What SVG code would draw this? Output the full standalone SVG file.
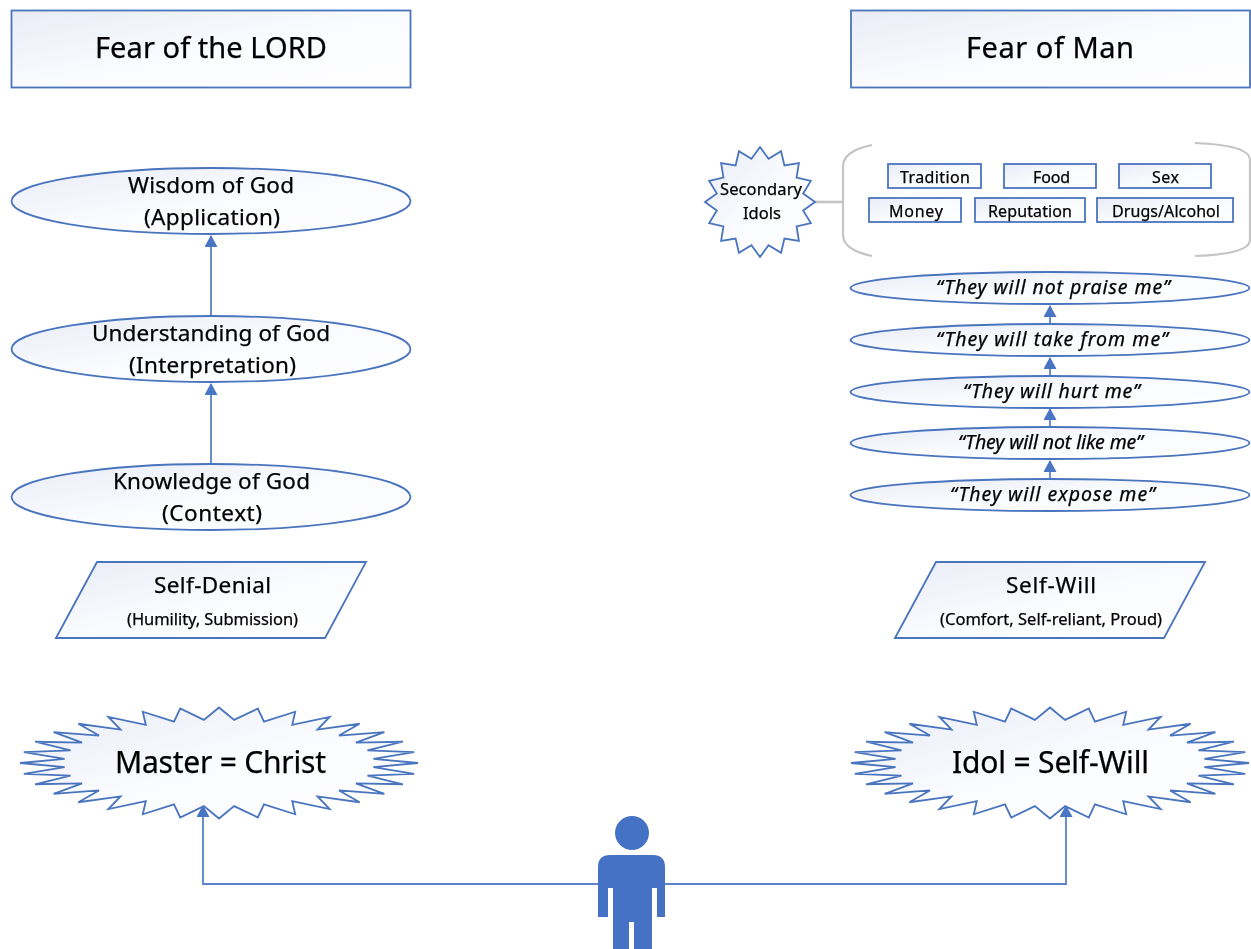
<svg xmlns="http://www.w3.org/2000/svg" xmlns:xlink="http://www.w3.org/1999/xlink" width="1251" height="949" viewBox="0 0 1251 949">
<style>
text{font-family:"Noto Sans","Liberation Sans",sans-serif;fill:#000000;stroke:#000000;stroke-width:.25}
.s{fill:url(#g);stroke:#4a74bf;stroke-width:1.8}
.st{fill:url(#g);stroke:#4a74bf;stroke-width:1.8;vector-effect:non-scaling-stroke}
.c{fill:none;stroke:#5b82c9;stroke-width:1.8}
.b{fill:none;stroke:#c4c4c4;stroke-width:2.2}
.t1{font-size:29px}.t2{font-size:22.500px}.t3{font-size:22.500px}.t4{font-size:16.500px}.t5{font-size:16px}.t6{font-size:19.500px;font-style:italic}.t7{font-size:30px}.t8{font-size:16.500px}
</style>
<defs>
<filter id="soft" x="0" y="0" width="1" height="1" filterUnits="objectBoundingBox"><feGaussianBlur stdDeviation="0.45"/></filter>
<linearGradient id="g" x1="0" y1="0" x2="1" y2="1"><stop offset="0" stop-color="#e9ecf7"/><stop offset="0.5" stop-color="#fafbfe"/><stop offset="1" stop-color="#ffffff"/></linearGradient>
<marker id="a" markerUnits="userSpaceOnUse" markerWidth="14" markerHeight="14" refX="11" refY="6.5" orient="auto"><path d="M0 0L12 6.500L0 13Z" fill="#4a74c4"/></marker>
<polygon id="s32" class="st" points="1000,0 776,76 981,195 746,226 924,383 688,368 831,556 603,495 707,707 495,603 556,831 368,688 383,924 226,746 195,981 76,776 0,1000 -76,776 -195,981 -226,746 -383,924 -368,688 -556,831 -495,603 -707,707 -603,495 -831,556 -688,368 -924,383 -746,226 -981,195 -776,76 -1000,0 -776,-76 -981,-195 -746,-226 -924,-383 -688,-368 -831,-556 -603,-495 -707,-707 -495,-603 -556,-831 -368,-688 -383,-924 -226,-746 -195,-981 -76,-776 0,-1000 76,-776 195,-981 226,-746 383,-924 368,-688 556,-831 495,-603 707,-707 603,-495 831,-556 688,-368 924,-383 746,-226 981,-195 776,-76"/>
<polygon id="s16" class="st" points="1000,0 785,156 924,383 665,444 707,707 444,665 383,924 156,785 0,1000 -156,785 -383,924 -444,665 -707,707 -665,444 -924,383 -785,156 -1000,0 -785,-156 -924,-383 -665,-444 -707,-707 -444,-665 -383,-924 -156,-785 0,-1000 156,-785 383,-924 444,-665 707,-707 665,-444 924,-383 785,-156"/>
</defs>
<rect width="1251" height="949" fill="#ffffff"/>
<g filter="url(#soft)">
<rect width="1251" height="949" fill="#ffffff"/>
<g id="connectors">
<path class="c" d="M211 316V236" marker-end="url(#a)"/>
<path class="c" d="M211 464V384" marker-end="url(#a)"/>
<path class="c" d="M1050 325V306" marker-end="url(#a)"/>
<path class="c" d="M1050 376V358" marker-end="url(#a)"/>
<path class="c" d="M1050 427V409" marker-end="url(#a)"/>
<path class="c" d="M1050 479V461" marker-end="url(#a)"/>
<path class="c" d="M600 884H203V806" marker-end="url(#a)"/>
<path class="c" d="M663 884H1066V806" marker-end="url(#a)"/>
<path d="M814 202H843" fill="none" stroke="#c4c4c4" stroke-width="2.6"/>
</g>
<g id="title-lord"><rect class="s" x="11.500" y="10.500" width="399" height="77"/><text class="t1" x="95" y="58" textLength="232">Fear of the LORD</text></g>
<g id="title-man"><rect class="s" x="851" y="10.500" width="399" height="77"/><text class="t1" x="966" y="58" textLength="168">Fear of Man</text></g>
<g id="wisdom"><ellipse class="s" cx="211" cy="201" rx="199.500" ry="33"/><text class="t2" x="128" y="193" textLength="166">Wisdom of God</text><text class="t2" x="144" y="225" textLength="136">(Application)</text></g>
<g id="understanding"><ellipse class="s" cx="211" cy="349" rx="199.500" ry="33"/><text class="t2" x="92" y="341" textLength="238">Understanding of God</text><text class="t2" x="129" y="373" textLength="167">(Interpretation)</text></g>
<g id="knowledge"><ellipse class="s" cx="211" cy="497" rx="199.500" ry="33"/><text class="t2" x="113" y="489" textLength="197">Knowledge of God</text><text class="t2" x="162" y="521" textLength="100">(Context)</text></g>
<g id="self-denial"><polygon class="s" points="56,638 97,562 366,562 325,638"/><text class="t3" x="154" y="593" textLength="117">Self-Denial</text><text class="t4" x="127" y="625" textLength="171">(Humility, Submission)</text></g>
<g id="self-will"><polygon class="s" points="895,638 936,562 1205,562 1164,638"/><text class="t3" x="1006" y="593" textLength="90">Self-Will</text><text class="t4" x="940" y="625" textLength="222">(Comfort, Self-reliant, Proud)</text></g>
<g id="master"><use xlink:href="#s32" href="#s32" transform="translate(219 763) scale(.199 .0555)"/><text class="t7" x="115" y="773" textLength="211">Master = Christ</text></g>
<g id="idol"><use xlink:href="#s32" href="#s32" transform="translate(1050 763) scale(.199 .0555)"/><text class="t7" x="952" y="773" textLength="197">Idol = Self-Will</text></g>
<g id="secondary-idols"><use xlink:href="#s16" href="#s16" transform="translate(760 202) scale(.055 .055)"/><text class="t8" x="720" y="195" textLength="82">Secondary</text><text class="t8" x="743" y="219" textLength="38">Idols</text></g>
<g id="idol-bracket"><path class="b" d="M872 145Q843 151 843 166V235Q843 250 872 256"/><path class="b" d="M1195 143Q1250 145 1250 160V240Q1250 254 1195 256"/></g>
<g id="tradition"><rect class="s" x="888" y="164" width="93" height="24"/><text class="t5" x="900" y="183" textLength="70">Tradition</text></g>
<g id="food"><rect class="s" x="1004" y="164" width="92" height="24"/><text class="t5" x="1033" y="183" textLength="37">Food</text></g>
<g id="sex"><rect class="s" x="1119" y="164" width="92" height="24"/><text class="t5" x="1152" y="183" textLength="27">Sex</text></g>
<g id="money"><rect class="s" x="869" y="198" width="92" height="24"/><text class="t5" x="889" y="217" textLength="54">Money</text></g>
<g id="reputation"><rect class="s" x="975" y="198" width="110" height="24"/><text class="t5" x="988" y="217" textLength="84">Reputation</text></g>
<g id="drugs"><rect class="s" x="1097" y="198" width="136" height="24"/><text class="t5" x="1112" y="217" textLength="108">Drugs/Alcohol</text></g>
<g id="praise"><ellipse class="s" cx="1050" cy="288" rx="199.500" ry="16"/><text class="t6" x="936" y="294" textLength="234">“They will not praise me”</text></g>
<g id="take"><ellipse class="s" cx="1050" cy="340" rx="199.500" ry="16"/><text class="t6" x="936" y="346" textLength="232">“They will take from me”</text></g>
<g id="hurt"><ellipse class="s" cx="1050" cy="392" rx="199.500" ry="16"/><text class="t6" x="963" y="398" textLength="177">“They will hurt me”</text></g>
<g id="like"><ellipse class="s" cx="1050" cy="443" rx="199.500" ry="16"/><text class="t6" x="958" y="449" textLength="185">“They will not like me”</text></g>
<g id="expose"><ellipse class="s" cx="1050" cy="495" rx="199.500" ry="16"/><text class="t6" x="950" y="501" textLength="205">“They will expose me”</text></g>
<g id="person" fill="#4472c4"><circle cx="632" cy="833" r="17"/><path d="M610 855H653Q665 855 665 867V917H657V888H652V949H634V922H629V949H613V888H608V917H598V867Q598 855 610 855Z"/></g>
</g>
</svg>
